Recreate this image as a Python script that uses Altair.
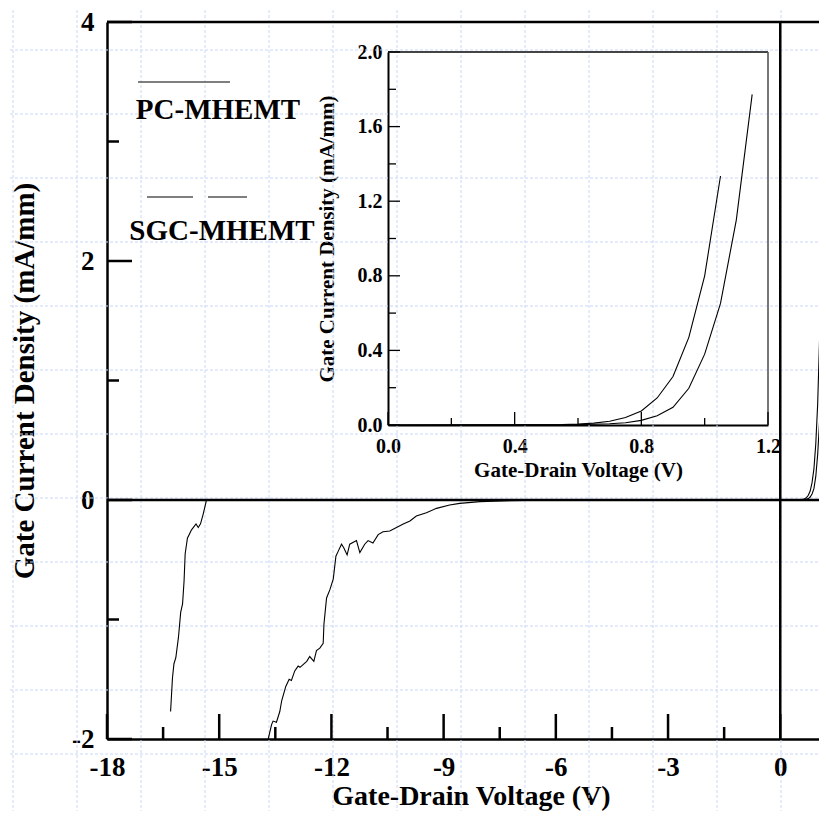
import altair as alt
import pandas as pd

# ---------------- data ----------------
series_names = ["PC-MHEMT", "SGC-MHEMT"]

# reverse-bias branch, PC-MHEMT
pc_rev_v = [-16.30, -16.25, -16.21, -16.16, -16.09, -16.03, -15.98, -15.94, -15.91,
            -15.85, -15.74, -15.62, -15.56, -15.50, -15.43, -15.34, -14.80, -12.0, -6.0, -3.0]
pc_rev_i = [-1.77, -1.49, -1.37, -1.32, -1.15, -0.94, -0.87, -0.68, -0.45,
            -0.32, -0.25, -0.20, -0.23, -0.20, -0.12, 0.0, 0.0, 0.0, 0.0, 0.0]

# reverse-bias branch, SGC-MHEMT
sgc_rev_v = [-13.69, -13.60, -13.56, -13.47, -13.38, -13.33, -13.22, -13.13, -13.07, -12.98,
             -12.89, -12.84, -12.75, -12.66, -12.58, -12.47, -12.40, -12.31, -12.22, -12.20,
             -12.13, -12.04, -11.95, -11.88, -11.82, -11.73, -11.67, -11.58, -11.51, -11.33,
             -11.24, -11.11, -11.02, -10.89, -10.75, -10.62, -10.44, -10.26, -10.08, -9.90,
             -9.73, -9.46, -9.19, -8.84, -8.57, -8.03, -7.23, -6.0, -3.0]
sgc_rev_i = [-2.00, -1.88, -1.85, -1.86, -1.77, -1.68, -1.56, -1.50, -1.51, -1.43,
             -1.39, -1.40, -1.375, -1.35, -1.31, -1.35, -1.26, -1.24, -1.20, -1.04,
             -0.82, -0.75, -0.66, -0.47, -0.43, -0.37, -0.40, -0.46, -0.37, -0.34,
             -0.44, -0.37, -0.34, -0.36, -0.29, -0.265, -0.26, -0.23, -0.20, -0.175,
             -0.134, -0.106, -0.07, -0.042, -0.028, -0.014, -0.006, 0.0, 0.0]

# forward-bias branch (shown in the inset and at the right edge of the main plot)
pc_fwd_v = [0.0, 0.5, 0.55, 0.6, 0.65, 0.7, 0.75, 0.8, 0.85, 0.9, 0.95, 1.0, 1.05]
pc_fwd_i = [0.0, 0.001, 0.002, 0.005, 0.010, 0.020, 0.040, 0.075, 0.145, 0.26, 0.47, 0.80, 1.335]

sgc_fwd_v = [0.0, 0.55, 0.6, 0.65, 0.7, 0.75, 0.8, 0.85, 0.9, 0.95, 1.0, 1.05, 1.1, 1.15]
sgc_fwd_i = [0.0, 0.001, 0.002, 0.004, 0.007, 0.012, 0.025, 0.05, 0.095, 0.197, 0.38, 0.652, 1.10, 1.773]

# axis ticks
main_x_major = [-18, -15, -12, -9, -6, -3, 0]
main_x_minor = [-16.5, -13.5, -10.5, -7.5, -4.5, -1.5]
main_y_major = [-2, 0, 2, 4]
main_y_minor = [-1, 1, 3]
inset_x_major = [0.0, 0.4, 0.8, 1.2]
inset_x_minor = [0.2, 0.6, 1.0]
inset_y_major = [0.0, 0.4, 0.8, 1.2, 1.6, 2.0]
inset_y_minor = [0.2, 0.6, 1.0, 1.4, 1.8]

# ---------------- layout / style ----------------
W, H = 712, 717
PX_PER_V = 37.403
FONT = "Liberation Serif"
INSET_XR = [281, 661]
INSET_YR = [403, 30]

def main_x():
    return alt.Scale(domain=[-18, -18 + W / PX_PER_V], nice=False, zero=False)

def main_y():
    return alt.Scale(domain=[-2, 4], nice=False, zero=False)

def in_x():
    return alt.Scale(domain=[0, 1.2], range=INSET_XR, nice=False, zero=False)

def in_y():
    return alt.Scale(domain=[0, 2], range=INSET_YR, nice=False, zero=False)


def frame(names, vs, is_):
    rows = []
    for name, v, i in zip(names, vs, is_):
        for k, (a, b) in enumerate(zip(v, i)):
            rows.append({"series": name, "v": a, "i": b, "k": k})
    return pd.DataFrame(rows)


main_df = frame(series_names,
                [pc_rev_v + pc_fwd_v, sgc_rev_v + sgc_fwd_v],
                [pc_rev_i + pc_fwd_i, sgc_rev_i + sgc_fwd_i])
inset_df = frame(series_names, [pc_fwd_v, sgc_fwd_v], [pc_fwd_i, sgc_fwd_i])

hyphen_expr = "datum.value < 0 ? '-' + format(-datum.value, 'd') : format(datum.value, 'd')"

common_axis = dict(ticks=False, grid=False, domainColor="black",
                   labelFont=FONT, labelFontWeight="bold", labelColor="black",
                   labelFlush=False, labelOverlap=False,
                   titleFont=FONT, titleFontWeight="bold", titleColor="black",
                   titleBaseline="alphabetic")

one = pd.DataFrame({"d": [0]})

# ---------------- background grid (page decoration) ----------------
grid_x = [13 + 64 * k - 107 for k in range(13)]
grid_y = [50 + 64 * k - 22 for k in range(13)]
grid_v = alt.Chart(pd.DataFrame({"gx": grid_x})).mark_rule(
    color="#c9d7f7", strokeWidth=1, strokeDash=[3, 2]).encode(
    x=alt.X("gx:Q", scale=None, axis=None), y=alt.value(-22), y2=alt.value(800))
grid_h = alt.Chart(pd.DataFrame({"gy": grid_y})).mark_rule(
    color="#c9d7f7", strokeWidth=1, strokeDash=[3, 2]).encode(
    y=alt.Y("gy:Q", scale=None, axis=None), x=alt.value(-107), x2=alt.value(W))

# ---------------- main plot ----------------
main_lines = alt.Chart(main_df).mark_line(color="black", strokeWidth=1.1).encode(
    x=alt.X("v:Q", scale=main_x(),
            axis=alt.Axis(orient="bottom", values=main_x_major, labelExpr=hyphen_expr,
                          domainWidth=2.5, labelFontSize=27, labelPadding=15,
                          title="Gate-Drain Voltage (V)", titleFontSize=28,
                          titleX=364, titleY=65, **common_axis)),
    y=alt.Y("i:Q", scale=main_y(),
            axis=alt.Axis(orient="left", values=main_y_major, labelExpr=hyphen_expr,
                          domainWidth=2.5, labelFontSize=27, labelPadding=13,
                          title="Gate Current Density (mA/mm)", titleFontSize=29,
                          titleAngle=270, titleX=-74, **common_axis)),
    detail="series:N",
    order="k:Q",
)

mx_major = alt.Chart(pd.DataFrame({"v": main_x_major})).mark_rule(color="black", strokeWidth=2.5).encode(
    x=alt.X("v:Q", scale=main_x(), axis=None), y=alt.value(H), y2=alt.value(H - 25))
mx_minor = alt.Chart(pd.DataFrame({"v": main_x_minor})).mark_rule(color="black", strokeWidth=2.5).encode(
    x=alt.X("v:Q", scale=main_x(), axis=None), y=alt.value(H), y2=alt.value(H - 12))
my_major = alt.Chart(pd.DataFrame({"i": main_y_major})).mark_rule(color="black", strokeWidth=2.5).encode(
    y=alt.Y("i:Q", scale=main_y(), axis=None), x=alt.value(0), x2=alt.value(25))
my_minor = alt.Chart(pd.DataFrame({"i": main_y_minor})).mark_rule(color="black", strokeWidth=2.5).encode(
    y=alt.Y("i:Q", scale=main_y(), axis=None), x=alt.value(0), x2=alt.value(12))

zero_h = alt.Chart(pd.DataFrame({"i": [0]})).mark_rule(color="black", strokeWidth=2.5).encode(
    y=alt.Y("i:Q", scale=main_y(), axis=None), x=alt.value(0), x2=alt.value(W))
zero_v = alt.Chart(pd.DataFrame({"v": [0]})).mark_rule(color="black", strokeWidth=2.5).encode(
    x=alt.X("v:Q", scale=main_x(), axis=None), y=alt.value(0), y2=alt.value(H))
top_border = alt.Chart(one).mark_rule(color="black", strokeWidth=2.5).encode(
    x=alt.value(0), x2=alt.value(W), y=alt.value(0))

# legend (drawn as in the original figure)
leg_pc_line = alt.Chart(one).mark_rule(color="#555555", strokeWidth=1.3).encode(
    x=alt.value(31), x2=alt.value(123), y=alt.value(60))
leg_sgc_line = alt.Chart(one).mark_rule(
    color="#555555", strokeWidth=1.3, strokeDash=[46, 15]).encode(
    x=alt.value(40), x2=alt.value(140), y=alt.value(175))
leg_pc_text = alt.Chart(pd.DataFrame({"s": [series_names[0]]})).mark_text(
    font=FONT, fontWeight="bold", fontSize=29, color="black", align="center", baseline="alphabetic").encode(
    text="s:N", x=alt.value(111), y=alt.value(97))
leg_sgc_text = alt.Chart(pd.DataFrame({"s": [series_names[1]]})).mark_text(
    font=FONT, fontWeight="bold", fontSize=29, color="black", align="center", baseline="alphabetic").encode(
    text="s:N", x=alt.value(115), y=alt.value(218))

# ---------------- inset ----------------
inset_lines = alt.Chart(inset_df).mark_line(color="black", strokeWidth=1.1).encode(
    x=alt.X("v:Q", scale=in_x(),
            axis=alt.Axis(orient="bottom", offset=-(H - INSET_YR[0]), values=inset_x_major,
                          format=".1f", domainWidth=2, labelFontSize=20, labelPadding=11,
                          title="Gate-Drain Voltage (V)", titleFontSize=21, titleY=51,
                          **common_axis)),
    y=alt.Y("i:Q", scale=in_y(),
            axis=alt.Axis(orient="left", offset=-INSET_XR[0], values=inset_y_major,
                          format=".1f", domainWidth=2, labelFontSize=20, labelPadding=6,
                          title="Gate Current Density (mA/mm)", titleFontSize=21,
                          titleAngle=270, titleX=-55, **common_axis)),
    detail="series:N",
    order="k:Q",
)

ix_major = alt.Chart(pd.DataFrame({"v": inset_x_major})).mark_rule(color="black", strokeWidth=1.3).encode(
    x=alt.X("v:Q", scale=in_x(), axis=None), y=alt.value(INSET_YR[0]), y2=alt.value(INSET_YR[0] - 13))
ix_minor = alt.Chart(pd.DataFrame({"v": inset_x_minor})).mark_rule(color="black", strokeWidth=1.3).encode(
    x=alt.X("v:Q", scale=in_x(), axis=None), y=alt.value(INSET_YR[0]), y2=alt.value(INSET_YR[0] - 7))
iy_major = alt.Chart(pd.DataFrame({"i": inset_y_major})).mark_rule(color="black", strokeWidth=1.3).encode(
    y=alt.Y("i:Q", scale=in_y(), axis=None), x=alt.value(INSET_XR[0]), x2=alt.value(INSET_XR[0] + 12))
iy_minor = alt.Chart(pd.DataFrame({"i": inset_y_minor})).mark_rule(color="black", strokeWidth=1.3).encode(
    y=alt.Y("i:Q", scale=in_y(), axis=None), x=alt.value(INSET_XR[0]), x2=alt.value(INSET_XR[0] + 8))

in_top = alt.Chart(one).mark_rule(color="#444444", strokeWidth=1.8).encode(
    x=alt.value(INSET_XR[0]), x2=alt.value(INSET_XR[1]), y=alt.value(INSET_YR[1]))
in_right = alt.Chart(one).mark_rule(color="#555555", strokeWidth=1.6).encode(
    x=alt.value(INSET_XR[1]), y=alt.value(INSET_YR[1]), y2=alt.value(INSET_YR[0]))

chart = alt.layer(
    grid_v, grid_h,
    zero_h, zero_v, top_border, mx_major, mx_minor, my_major, my_minor,
    main_lines, leg_pc_line, leg_sgc_line, leg_pc_text, leg_sgc_text,
    in_top, in_right, ix_major, ix_minor, iy_major, iy_minor, inset_lines,
).resolve_scale(
    x="independent", y="independent"
).properties(
    width=W, height=H,
    padding={"left": 99, "top": 14, "right": 0, "bottom": 72},
    autosize=alt.AutoSizeParams(type="none"),
    background="white",
).configure_view(stroke=None)

chart.save("out.html", embed_options={"renderer": "svg", "actions": False})
